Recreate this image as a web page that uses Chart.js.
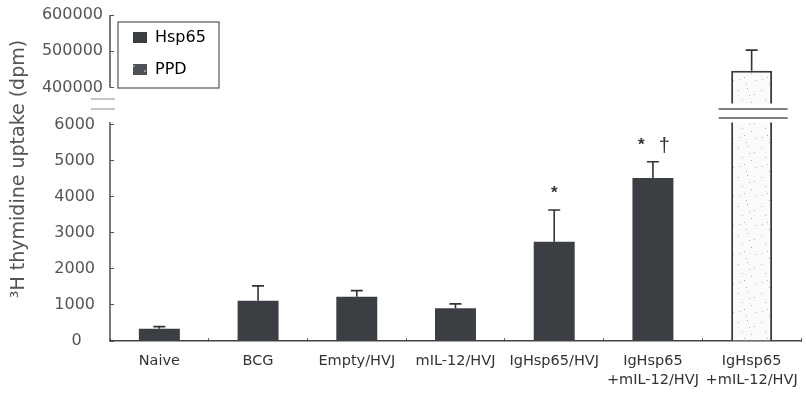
<!DOCTYPE html>
<html>
<head>
<meta charset="utf-8">
<script src="https://cdn.jsdelivr.net/npm/chart.js@4/dist/chart.umd.min.js"></script>
<style>
  html, body { margin: 0; padding: 0; background: #ffffff; }
  canvas { display: block; }
</style>
</head>
<body>
<canvas id="uptake" width="806" height="396"></canvas>
<script>
// Groups along the x axis (multi-line labels)
const groups = [
  ['Naive'], ['BCG'], ['Empty/HVJ'], ['mIL-12/HVJ'], ['IgHsp65/HVJ'],
  ['IgHsp65', '+mIL-12/HVJ'], ['IgHsp65', '+mIL-12/HVJ']
];
// 3H thymidine uptake (dpm), mean and SD
const hsp65Uptake = [340, 1120, 1230, 910, 2760, 4530, null];
const hsp65SD     = [60, 410, 170, 120, 880, 450, null];
const ppdUptake   = [null, null, null, null, null, null, 446000];
const ppdSD       = [null, null, null, null, null, null, 57000];
// significance marks above each group
const significance = [[], [], [], [], ['*'], ['*', '\u2020'], []];
// tick values of the two parts of the broken y axis
const lowerTicks = [0, 1000, 2000, 3000, 4000, 5000, 6000];
const upperTicks = [400000, 500000, 600000];
const seriesNames = ['Hsp65', 'PPD'];
const yTitle = '\u00B3H thymidine uptake (dpm)';

// axis ranges of the two stacked panels
const lowerRange = { min: 0, max: 6611 };
const upperRange = { min: 357241, max: 600000 };

const INK = '#3b3f44';
const FONT = 'DejaVu Sans';

function makeStipple(base, dot, size) {
  const c = document.createElement('canvas');
  c.width = 23; c.height = 29;
  const g = c.getContext('2d');
  g.fillStyle = base; g.fillRect(0, 0, 23, 29);
  g.fillStyle = dot;
  [[2,3],[11,1],[18,7],[6,12],[15,15],[3,21],[20,22],[10,26],[13,8],[8,19]]
    .forEach(([px, py]) => g.fillRect(px, py, size, size));
  return g.createPattern(c, 'repeat');
}
const barStipple = makeStipple('#fbfbfb', '#b3b3b3', 1);
const keyStipple = makeStipple('#4d5359', '#8d949a', 2);

const markStyle = {
  '*': { font: 'bold 17px "Liberation Sans"', lift: 21, base: 9.5 },
  '\u2020': { font: '20px "Liberation Sans"', lift: 15, base: 5.5 }
};

// keep the plot area fixed: no extra room reserved for tick label overhang
const noOverhang = s => { s.paddingTop = 0; s.paddingBottom = 0; s.paddingLeft = 0; s.paddingRight = 0; };
// the zero label sits a little left of the other lower-axis labels
const lowerLabel = v => (v === 0 ? '0\u2007\u2009' : String(v));

const annotate = {
  id: 'annotate',
  afterLayout(chart) {
    const lg = chart.legend, a = chart.chartArea;
    lg.left = a.left + 7;
    lg.top = a.top - 1.5;
  },
  afterDatasetsDraw(chart) {
    const ctx = chart.ctx;
    const { y, y2 } = chart.scales;
    const a = chart.chartArea;
    ctx.save();

    // upper error bars
    ctx.strokeStyle = '#333';
    ctx.lineWidth = 1.6;
    const drawErr = (dsIndex, means, sds, scale) => {
      const meta = chart.getDatasetMeta(dsIndex);
      means.forEach((m, i) => {
        if (m == null || sds[i] == null) return;
        const cx = meta.data[i].x;
        const y0 = scale.getPixelForValue(m);
        const y1 = scale.getPixelForValue(m + sds[i]);
        ctx.beginPath();
        ctx.moveTo(cx, y0); ctx.lineTo(cx, y1);
        ctx.moveTo(cx - 6, y1); ctx.lineTo(cx + 6, y1);
        ctx.stroke();
      });
    };
    drawErr(0, hsp65Uptake, hsp65SD, y);
    drawErr(1, ppdUptake, ppdSD, y2);

    // break in the PPD bar
    const ppdMeta = chart.getDatasetMeta(1);
    ppdUptake.forEach((v, i) => {
      if (v == null) return;
      const bar = ppdMeta.data[i];
      const gTop = y2.bottom;
      ctx.fillStyle = '#ffffff';
      ctx.fillRect(bar.x - bar.width / 2 - 3, gTop + 0.5, bar.width + 6, 19);
      ctx.strokeStyle = '#555';
      ctx.lineWidth = 1.4;
      ctx.beginPath();
      ctx.moveTo(bar.x - 33, gTop + 6); ctx.lineTo(bar.x + 36, gTop + 6);
      ctx.moveTo(bar.x - 33, gTop + 15); ctx.lineTo(bar.x + 36, gTop + 15);
      ctx.stroke();
    });

    // y axis lines for both panels, and the axis break
    ctx.strokeStyle = '#444';
    ctx.lineWidth = 1.4;
    ctx.beginPath();
    ctx.moveTo(y2.right, y2.getPixelForValue(upperTicks[upperTicks.length - 1]));
    ctx.lineTo(y2.right, y2.getPixelForValue(upperTicks[0]));
    ctx.moveTo(y.right, y.getPixelForValue(lowerTicks[lowerTicks.length - 1]) - 3);
    ctx.lineTo(y.right, y.bottom);
    ctx.stroke();
    ctx.strokeStyle = '#8a8a8a';
    ctx.lineWidth = 1;
    ctx.beginPath();
    ctx.moveTo(y.right - 19, y2.bottom - 4); ctx.lineTo(y.right + 5, y2.bottom - 4);
    ctx.moveTo(y.right - 19, y2.bottom + 6); ctx.lineTo(y.right + 5, y2.bottom + 6);
    ctx.stroke();

    // significance marks
    const hMeta = chart.getDatasetMeta(0);
    ctx.fillStyle = '#333';
    ctx.textAlign = 'center';
    ctx.textBaseline = 'alphabetic';
    significance.forEach((marks, i) => {
      if (!marks.length) return;
      const cx = hMeta.data[i].x;
      const top = y.getPixelForValue(hsp65Uptake[i] + hsp65SD[i]);
      marks.forEach((m, j) => {
        const st = markStyle[m];
        ctx.font = st.font;
        ctx.fillText(m, cx + (j - (marks.length - 1) / 2) * 23, top - st.lift + st.base);
      });
    });

    // legend frame
    const lg = chart.legend;
    ctx.strokeStyle = '#555';
    ctx.lineWidth = 1.2;
    ctx.strokeRect(lg.left + 1, lg.top + 8.5, 101, 66);

    // y axis title spanning both panels
    ctx.save();
    ctx.translate(19, (a.top + a.bottom) / 2 - 9);
    ctx.rotate(-Math.PI / 2);
    ctx.font = '19px "' + FONT + '"';
    ctx.fillStyle = '#555';
    ctx.textAlign = 'center';
    ctx.textBaseline = 'middle';
    ctx.fillText(yTitle, 0, 0);
    ctx.restore();

    ctx.restore();
  }
};

const tickFont = { family: FONT, size: 16 };

new Chart(document.getElementById('uptake'), {
  type: 'bar',
  data: {
    labels: groups,
    datasets: [
      {
        label: seriesNames[0], data: hsp65Uptake, yAxisID: 'y',
        backgroundColor: INK, borderWidth: 0,
        grouped: false, barPercentage: 0.415, categoryPercentage: 1
      },
      {
        label: seriesNames[1], data: ppdUptake, yAxisID: 'y2',
        backgroundColor: barStipple, borderColor: '#3a3a3a', borderWidth: 2,
        grouped: false, barPercentage: 0.415, categoryPercentage: 1
      },
      {
        label: seriesNames[1], data: ppdUptake, yAxisID: 'y',
        backgroundColor: barStipple, borderColor: '#3a3a3a', borderWidth: 2,
        grouped: false, barPercentage: 0.415, categoryPercentage: 1
      }
    ]
  },
  options: {
    responsive: false,
    devicePixelRatio: 1,
    animation: false,
    layout: { padding: { top: 15, right: 5, bottom: 0, left: 0 } },
    plugins: {
      tooltip: { enabled: false },
      legend: {
        position: 'chartArea',
        align: 'start',
        onClick: null,
        labels: {
          font: { family: FONT, size: 16 },
          color: '#333',
          boxWidth: 14,
          boxHeight: 11,
          padding: 16,
          generateLabels: () => seriesNames.map((name, i) => ({
            text: name,
            fillStyle: i === 0 ? INK : keyStipple,
            strokeStyle: 'rgba(0,0,0,0)',
            lineWidth: 0,
            hidden: false,
            datasetIndex: i
          }))
        }
      }
    },
    scales: {
      x: {
        type: 'category',
        offset: true,
        border: { color: '#444', width: 1.5 },
        grid: { display: true, drawOnChartArea: false, offset: true, tickLength: -3, color: '#666' },
        ticks: {
          font: { family: FONT, size: 14.5, lineHeight: 1.3 },
          color: '#333', padding: 14, maxRotation: 0, autoSkip: false
        },
        afterFit: s => { s.height = 55; noOverhang(s); }
      },
      y: {
        position: 'left', stack: 'panels', stackWeight: 238, weight: 0,
        min: lowerRange.min, max: lowerRange.max,
        border: { display: false },
        grid: { drawOnChartArea: false, tickLength: -4, color: '#555' },
        ticks: { font: tickFont, color: '#555', padding: 19, callback: lowerLabel },
        afterBuildTicks: s => { s.ticks = lowerTicks.map(v => ({ value: v })); },
        afterFit: s => { s.width = 110; noOverhang(s); }
      },
      y2: {
        position: 'left', stack: 'panels', stackWeight: 88, weight: 1,
        min: upperRange.min, max: upperRange.max,
        border: { display: false },
        grid: { drawOnChartArea: false, tickLength: -4, color: '#555' },
        ticks: { font: tickFont, color: '#555', padding: 11, callback: v => String(v) },
        afterBuildTicks: s => { s.ticks = upperTicks.map(v => ({ value: v })); },
        afterFit: s => { s.width = 110; noOverhang(s); }
      }
    }
  },
  plugins: [annotate]
});
</script>
</body>
</html>
